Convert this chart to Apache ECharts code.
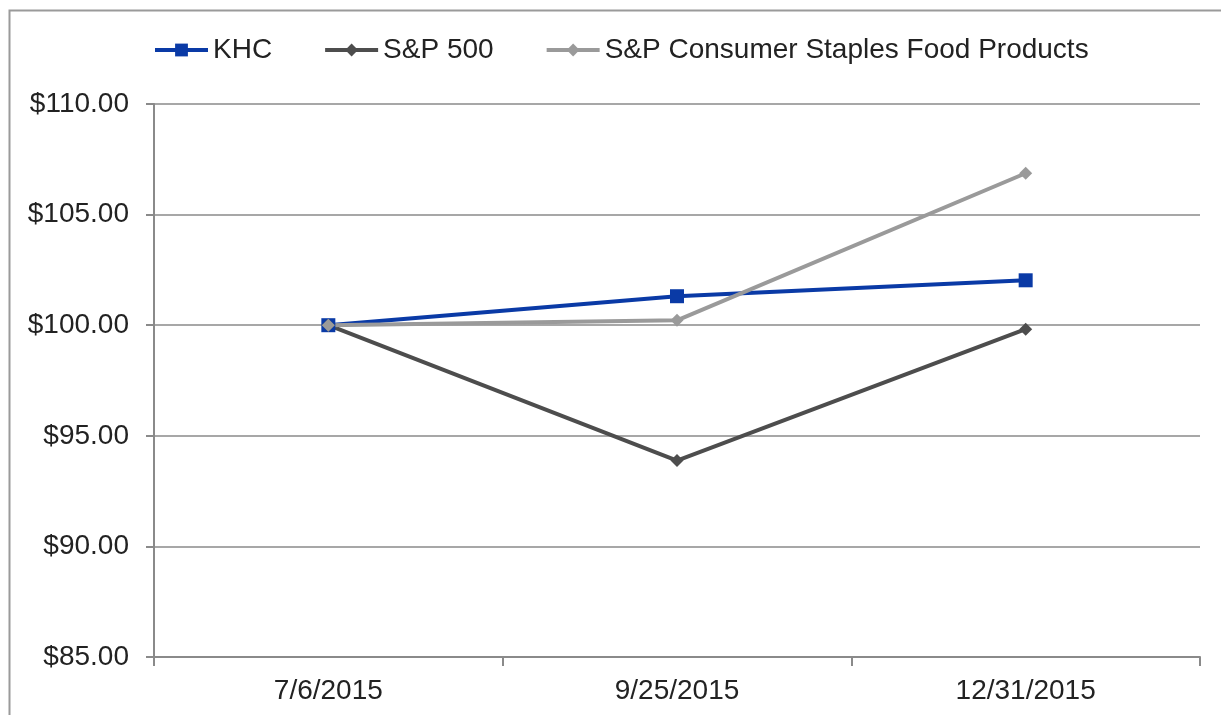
<!DOCTYPE html>
<html>
<head>
<meta charset="utf-8">
<script src="https://cdn.jsdelivr.net/npm/echarts@6/dist/echarts.min.js"></script>
<style>html,body{margin:0;padding:0;background:#fff;}#c{width:1221px;height:715px;}</style>
</head>
<body>
<div id="c"></div>
<script>
const categories = ['7/6/2015', '9/25/2015', '12/31/2015'];
const khc = [100.00, 101.31, 102.03];
const sp500 = [100.00, 93.88, 99.82];
const staples = [100.00, 100.22, 106.87];
const yTicks = { min: 85, max: 110, interval: 5 };

const chart = echarts.init(document.getElementById('c'));
const font = 'Liberation Sans, Arial, sans-serif';
chart.setOption({
  animation: false,
  backgroundColor: '#fff',
  graphic: [{
    type: 'rect', silent: true, z: -1,
    shape: { x: 9.5, y: 10.5, width: 1300, height: 800 },
    style: { fill: 'none', stroke: '#9a9a9a', lineWidth: 2 }
  }],
  legend: {
    left: 148, top: 31,
    itemWidth: 53, itemHeight: 16, itemGap: 51,
    lineStyle: { width: 4 },
    textStyle: { fontFamily: font, fontSize: 28, color: '#222' },
    data: ['KHC', 'S&P 500', 'S&P Consumer Staples Food Products']
  },
  grid: { left: 154, right: 21, top: 104, bottom: 58 },
  xAxis: {
    type: 'category', data: categories, boundaryGap: true,
    axisLine: { lineStyle: { color: '#8a8a8a', width: 2 } },
    axisTick: { show: true, length: 9, lineStyle: { color: '#8a8a8a', width: 2 } },
    axisLabel: { fontFamily: font, fontSize: 28, color: '#222', margin: 20 }
  },
  yAxis: {
    type: 'value', min: yTicks.min, max: yTicks.max, interval: yTicks.interval,
    axisLine: { show: true, lineStyle: { color: '#8a8a8a', width: 2 } },
    axisTick: { show: true, length: 8, lineStyle: { color: '#8a8a8a', width: 2 } },
    splitLine: { lineStyle: { color: '#8a8a8a', width: 1.5 } },
    axisLabel: { fontFamily: font, fontSize: 28, color: '#222', margin: 25,
      formatter: v => '$' + v.toFixed(2) }
  },
  series: [
    { name: 'KHC', type: 'line', data: khc, symbol: 'rect', symbolSize: 14,
      lineStyle: { color: '#0a3aa6', width: 4 }, itemStyle: { color: '#0a3aa6' } },
    { name: 'S&P 500', type: 'line', data: sp500, symbol: 'diamond', symbolSize: 13,
      lineStyle: { color: '#4d4d4d', width: 4 }, itemStyle: { color: '#4d4d4d' } },
    { name: 'S&P Consumer Staples Food Products', type: 'line', data: staples, symbol: 'diamond', symbolSize: 13,
      lineStyle: { color: '#9a9a9a', width: 4 }, itemStyle: { color: '#9a9a9a' } }
  ]
});
</script>
</body>
</html>
